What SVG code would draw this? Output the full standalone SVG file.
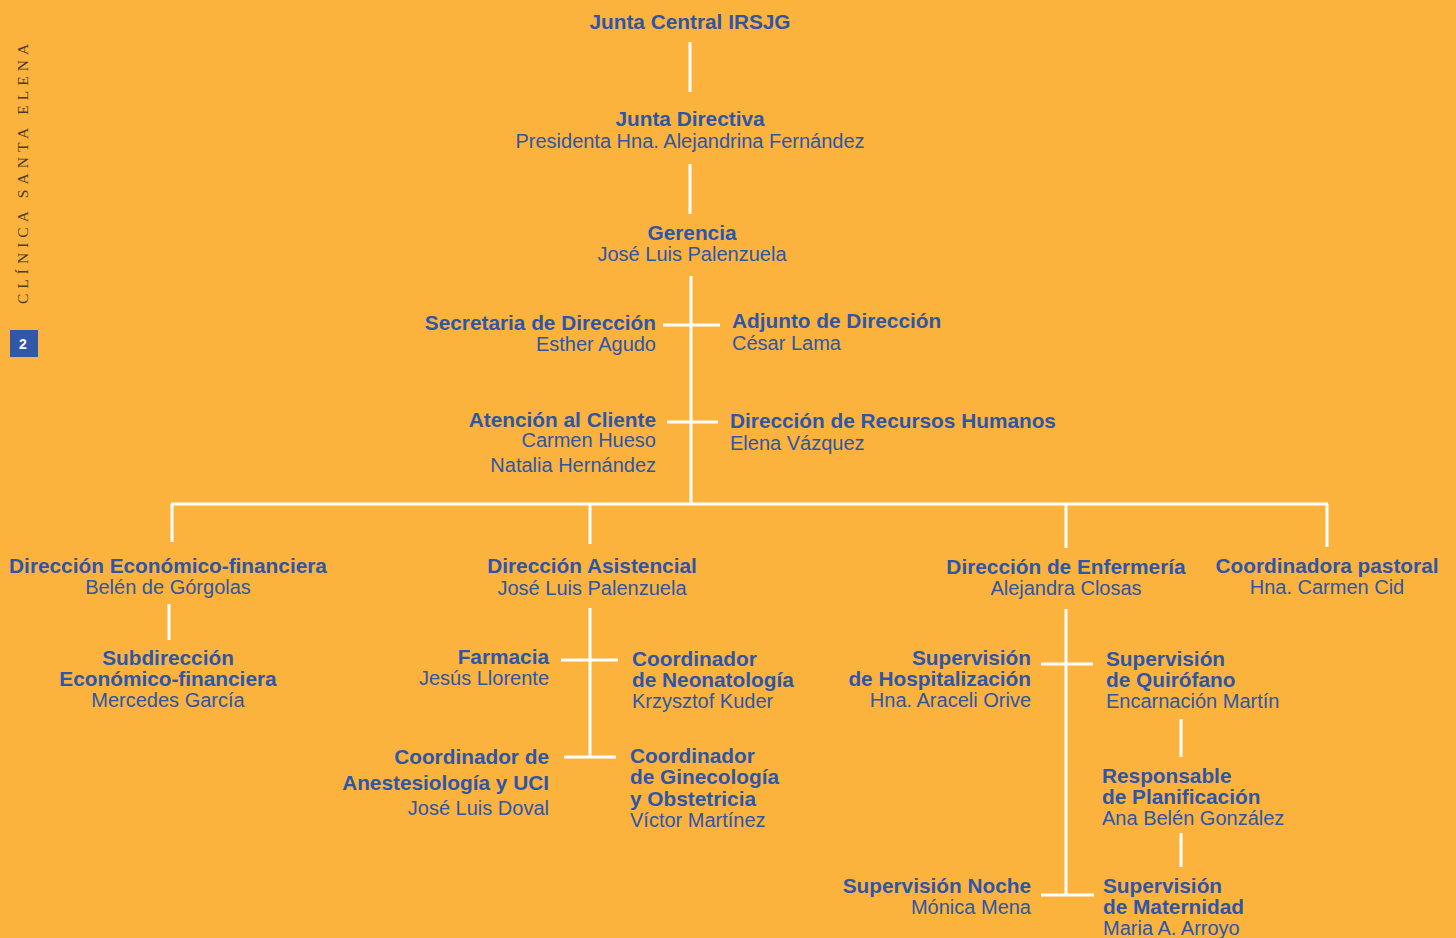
<svg xmlns="http://www.w3.org/2000/svg" width="1456" height="938" viewBox="0 0 1456 938">
<style>
text{font-family:"Liberation Sans",Arial,sans-serif;font-size:20px;fill:#2f56a6}
.b{font-weight:bold;font-size:20.8px}
.r{font-weight:normal}
.m{text-anchor:middle}
.e{text-anchor:end}
.s{text-anchor:start}
.ln{stroke:#ffffff;stroke-width:3;fill:none}
.side{font-family:"Liberation Serif",serif;font-size:15.5px;fill:#4a3a26;letter-spacing:5px}
</style>
<rect width="1456" height="938" fill="#fbb33e"/>
<text class="side" transform="translate(28,304) rotate(-90)">CLÍNICA SANTA ELENA</text>
<rect x="10" y="330" width="28" height="27" fill="#3057a8"/>
<text x="23" y="349" style="font-size:14px;font-weight:bold;fill:#ffffff;text-anchor:middle">2</text>

<g id="connectors">
<path class="ln" d="M690 42V92M690 164V214M691 276V504M663 325H720M667 422H718M171 504H1328M172 504V542M590 504V544M1066 504V548M1327 504V547M169 604V640M590 608V757M561 660H618M564 757H616M1066 609V895M1041 664H1093M1041 895H1094M1181 719V757M1181 833V867"/>
</g>

<g id="junta-central"><text class="b m" x="690" y="29">Junta Central IRSJG</text></g>
<g id="junta-directiva"><text class="b m" x="690" y="126">Junta Directiva</text><text class="r m" x="690" y="148">Presidenta Hna. Alejandrina Fernández</text></g>
<g id="gerencia"><text class="b m" x="692" y="240">Gerencia</text><text class="r m" x="692" y="261">José Luis Palenzuela</text></g>
<g id="secretaria"><text class="b e" x="656" y="330">Secretaria de Dirección</text><text class="r e" x="656" y="351">Esther Agudo</text></g>
<g id="adjunto"><text class="b s" x="732" y="328">Adjunto de Dirección</text><text class="r s" x="732" y="350">César Lama</text></g>
<g id="atencion"><text class="b e" x="656" y="427">Atención al Cliente</text><text class="r e" x="656" y="447">Carmen Hueso</text><text class="r e" x="656" y="472">Natalia Hernández</text></g>
<g id="rrhh"><text class="b s" x="730" y="428">Dirección de Recursos Humanos</text><text class="r s" x="730" y="450">Elena Vázquez</text></g>
<g id="dir-economico"><text class="b m" x="168" y="573">Dirección Económico-financiera</text><text class="r m" x="168" y="594">Belén de Górgolas</text></g>
<g id="subdir-economico"><text class="b m" x="168" y="665">Subdirección</text><text class="b m" x="168" y="686">Económico-financiera</text><text class="r m" x="168" y="707">Mercedes García</text></g>
<g id="dir-asistencial"><text class="b m" x="592" y="573">Dirección Asistencial</text><text class="r m" x="592" y="595">José Luis Palenzuela</text></g>
<g id="farmacia"><text class="b e" x="549" y="664">Farmacia</text><text class="r e" x="549" y="685">Jesús Llorente</text></g>
<g id="neonatologia"><text class="b s" x="632" y="666">Coordinador</text><text class="b s" x="632" y="687">de Neonatología</text><text class="r s" x="632" y="708">Krzysztof Kuder</text></g>
<g id="anestesiologia"><text class="b e" x="549" y="764">Coordinador de</text><text class="b e" x="549" y="790">Anestesiología y UCI</text><text class="r e" x="549" y="815">José Luis Doval</text></g>
<g id="ginecologia"><text class="b s" x="630" y="763">Coordinador</text><text class="b s" x="630" y="784">de Ginecología</text><text class="b s" x="630" y="806">y Obstetricia</text><text class="r s" x="630" y="827">Víctor Martínez</text></g>
<g id="dir-enfermeria"><text class="b m" x="1066" y="574">Dirección de Enfermería</text><text class="r m" x="1066" y="595">Alejandra Closas</text></g>
<g id="pastoral"><text class="b m" x="1327" y="573">Coordinadora pastoral</text><text class="r m" x="1327" y="594">Hna. Carmen Cid</text></g>
<g id="sup-hospitalizacion"><text class="b e" x="1031" y="665">Supervisión</text><text class="b e" x="1031" y="686">de Hospitalización</text><text class="r e" x="1031" y="707">Hna. Araceli Orive</text></g>
<g id="sup-quirofano"><text class="b s" x="1106" y="666">Supervisión</text><text class="b s" x="1106" y="687">de Quirófano</text><text class="r s" x="1106" y="708">Encarnación Martín</text></g>
<g id="planificacion"><text class="b s" x="1102" y="783">Responsable</text><text class="b s" x="1102" y="804">de Planificación</text><text class="r s" x="1102" y="825">Ana Belén González</text></g>
<g id="sup-noche"><text class="b e" x="1031" y="893">Supervisión Noche</text><text class="r e" x="1031" y="914">Mónica Mena</text></g>
<g id="sup-maternidad"><text class="b s" x="1103" y="893">Supervisión</text><text class="b s" x="1103" y="914">de Maternidad</text><text class="r s" x="1103" y="935">Maria A. Arroyo</text></g>
</svg>
